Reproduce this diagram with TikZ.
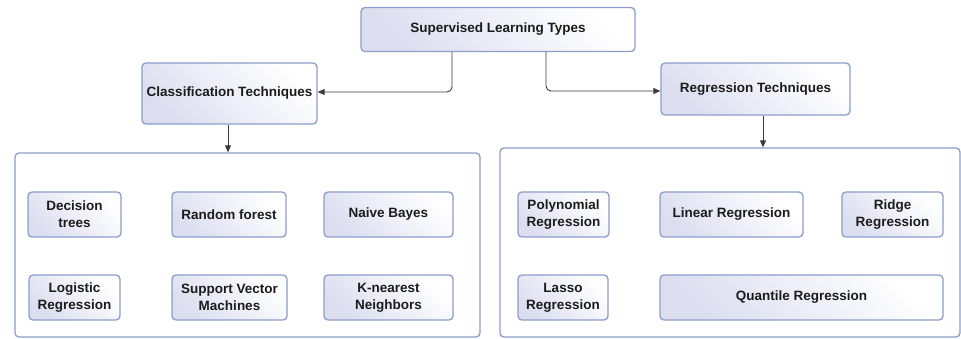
\documentclass[tikz,border=0pt]{standalone}
\usepackage{fontspec}
\setmainfont{Liberation Sans}
\usetikzlibrary{arrows.meta}
\definecolor{boxedge}{HTML}{8C9DCB}
\definecolor{boxtint}{HTML}{DCDEF0}
\definecolor{inkgray}{HTML}{1C1C1C}
\definecolor{wiregray}{HTML}{3A3A3A}
\tikzset{
  x=1pt, y=-1pt,
  card/.style={draw=boxedge, line width=1.3pt, rounded corners=4pt,
    top color=white, bottom color=boxtint, shading angle=-45,
    font=\fontsize{13.5}{17}\selectfont\bfseries, text=inkgray,
    align=center, inner sep=0pt},
  panel/.style={draw=boxedge, line width=1.3pt, rounded corners=4pt,
    fill=white, inner sep=0pt},
  wire/.style={draw=wiregray, line width=0.9pt, rounded corners=5pt,
    -{Triangle[length=7pt,width=6pt]}}
}
\newcommand{\cardat}[5]{% name, cx, cy, w, h
  \node[card, minimum width=#4pt, minimum height=#5pt] (#1) at (#2,#3)}
\begin{document}
\begin{tikzpicture}
\useasboundingbox (0,0) rectangle (961,339);

% outer panels
\node[panel, minimum width=465pt, minimum height=184pt] (clspanel) at (247.5,245) {};
\node[panel, minimum width=460pt, minimum height=189pt] (regpanel) at (730,242.5) {};

% headings
\cardat{root}{498}{29.5}{274}{44}{Supervised Learning Types};
\cardat{cls}{229.5}{93.5}{175}{61}{Classification Techniques};
\cardat{reg}{755.5}{89}{189}{52}{Regression Techniques};

% classification methods
\cardat{dtree}{74.5}{214.5}{93}{45}{Decision\\trees};
\cardat{rforest}{229}{214.5}{114}{45}{Random forest};
\cardat{nbayes}{388.5}{214.5}{129}{45}{Naive Bayes};
\cardat{logreg}{74.5}{297.5}{91}{45}{Logistic\\Regression};
\cardat{svm}{229.5}{297.5}{115}{45}{Support Vector\\Machines};
\cardat{knn}{388.5}{297.5}{129}{45}{K-nearest\\Neighbors};

% regression methods
\cardat{poly}{563.5}{214.5}{91}{45}{Polynomial\\Regression};
\cardat{linreg}{731.5}{214.5}{143}{45}{Linear Regression};
\cardat{ridge}{892.5}{214.5}{101}{45}{Ridge\\Regression};
\cardat{lasso}{563}{297.5}{90}{45}{Lasso\\Regression};
\cardat{quant}{801.5}{297.5}{283}{45}{Quantile Regression};

% connectors
\draw[wire] (root.south -| 452,0) |- (cls.east |- 0,92);
\draw[wire] (root.south -| 546,0) |- (reg.west |- 0,91);
\draw[wire] (cls.south -| 228,0) -- (clspanel.north -| 228,0);
\draw[wire] (reg.south -| 763,0) -- (regpanel.north -| 763,0);
\end{tikzpicture}
\end{document}
